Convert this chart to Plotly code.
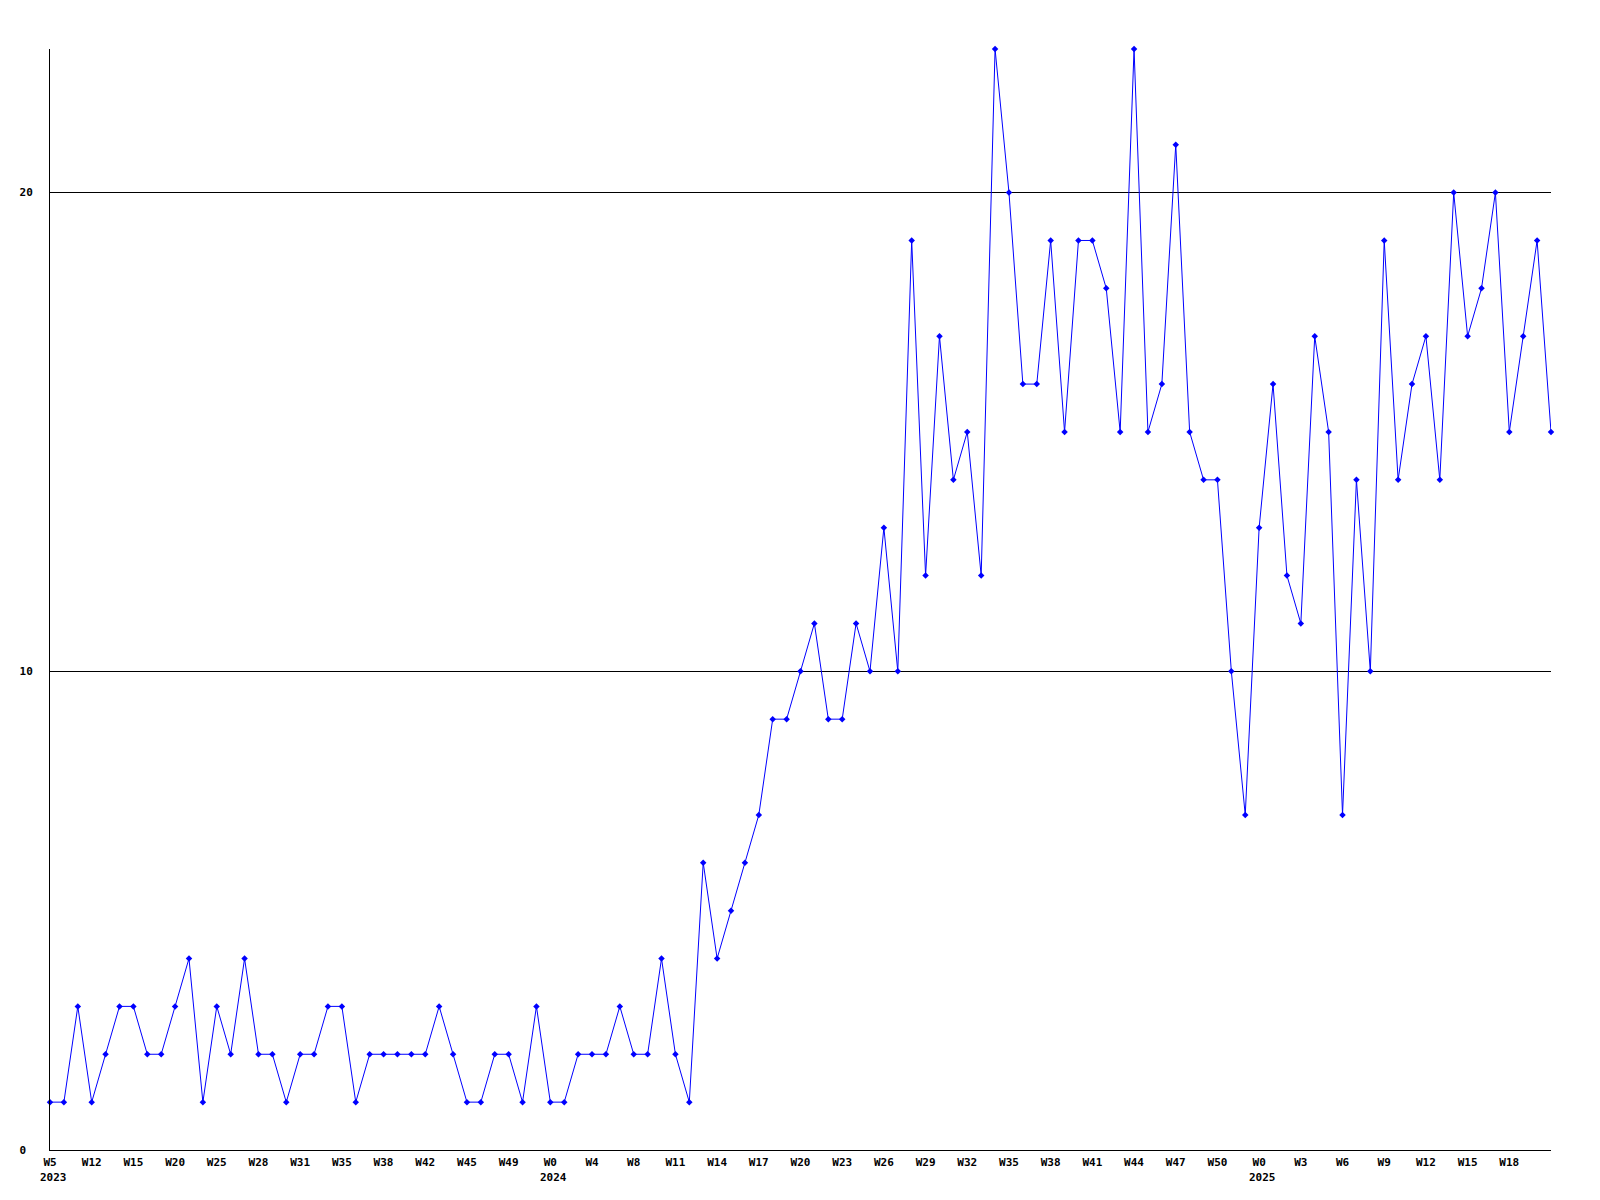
import plotly.graph_objects as go

values = [1, 1, 3, 1, 2, 3, 3, 2, 2, 3,
          4, 1, 3, 2, 4, 2, 2, 1, 2, 2,
          3, 3, 1, 2, 2, 2, 2, 2, 3, 2,
          1, 1, 2, 2, 1, 3, 1, 1, 2, 2,
          2, 3, 2, 2, 4, 2, 1, 6, 4, 5,
          6, 7, 9, 9, 10, 11, 9, 9, 11, 10,
          13, 10, 19, 12, 17, 14, 15, 12, 23, 20,
          16, 16, 19, 15, 19, 19, 18, 15, 23, 15,
          16, 21, 15, 14, 14, 10, 7, 13, 16, 12,
          11, 17, 15, 7, 14, 10, 19, 14, 16, 17,
          14, 20, 17, 18, 20, 15, 17, 19, 15]

week_labels = ["W5", "W12", "W15", "W20", "W25", "W28", "W31", "W35", "W38",
               "W42", "W45", "W49", "W0", "W4", "W8", "W11", "W14", "W17",
               "W20", "W23", "W26", "W29", "W32", "W35", "W38", "W41", "W44",
               "W47", "W50", "W0", "W3", "W6", "W9", "W12", "W15", "W18"]
week_positions = list(range(0, 3 * len(week_labels), 3))

year_labels = ["2023", "2024", "2025"]
year_positions = [0, 36, 87]

y_tickvals = [0, 10, 20]
y_ticktext = ["0\u00a0", "10", "20"]

x = list(range(len(values)))

font = dict(family="DejaVu Sans Mono", size=11, color="black", weight="bold")

fig = go.Figure()
fig.add_trace(go.Scatter(
    x=x, y=values, mode="lines+markers",
    line=dict(color="#0000ff", width=1),
    marker=dict(symbol="diamond", size=5, color="#0000ff"),
    cliponaxis=False,
    showlegend=False,
))

for pos, lab in zip(year_positions, year_labels):
    fig.add_annotation(x=pos, y=0, xref="x", yref="paper", text=lab,
                       showarrow=False, xanchor="left", yanchor="top",
                       xshift=-12, yshift=-19, font=font)

fig.update_layout(
    width=1600, height=1200,
    margin=dict(l=50, r=49, t=49, b=50),
    paper_bgcolor="white", plot_bgcolor="white",
    xaxis=dict(range=[0, len(values) - 1], tickmode="array",
               tickvals=week_positions, ticktext=week_labels,
               showline=True, linecolor="black", linewidth=1,
               showgrid=False, zeroline=False, ticks="",
               tickfont=font, tickangle=0, ticklabelstandoff=2),
    yaxis=dict(range=[0, 23], tickmode="array", tickvals=y_tickvals,
               ticktext=y_ticktext, showline=True, linecolor="black",
               linewidth=1, showgrid=True, gridcolor="black", gridwidth=1,
               zeroline=False, ticks="", tickfont=font,
               ticklabelstandoff=14),
)

fig.write_html("out.html", config={"displayModeBar": False},
               post_script="document.body.style.margin='0';")
